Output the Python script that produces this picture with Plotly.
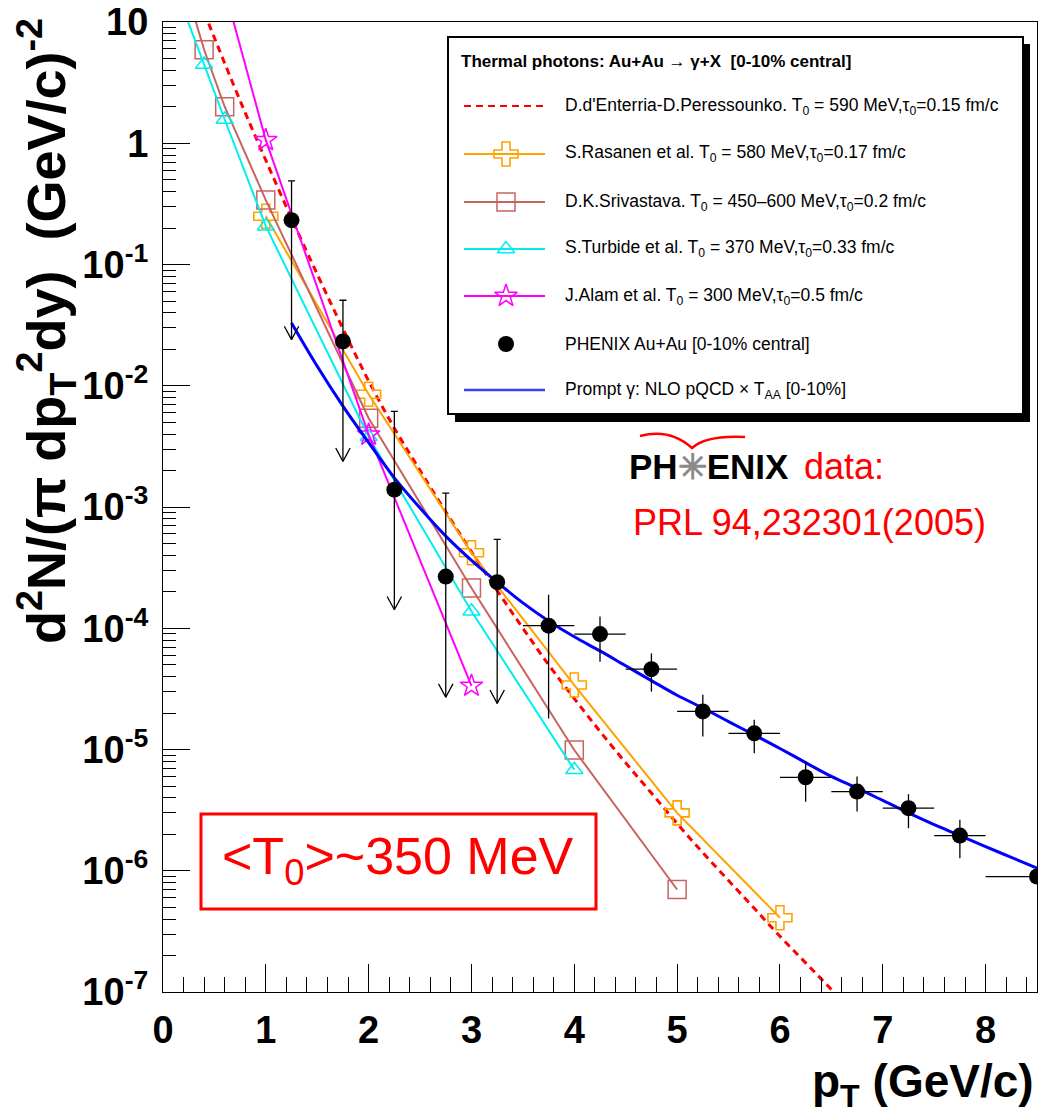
import plotly.graph_objects as go

# ---------------- data ----------------
# PHENIX Au+Au [0-10% central]
pt_data = [1.25, 1.75, 2.25, 2.75, 3.25, 3.75, 4.25, 4.75, 5.25, 5.75, 6.25, 6.75, 7.25, 7.75, 8.5]
yield_data = [0.232, 0.0232, 1.39e-3, 2.67e-4, 2.40e-4, 1.05e-4, 8.95e-5, 4.6e-5, 2.06e-5,
              1.36e-5, 5.9e-6, 4.5e-6, 3.28e-6, 1.95e-6, 8.96e-7]
err_top = [0.49, 0.0507, 6.15e-3, 1.30e-3, 5.4e-4, 1.89e-4, 1.25e-4, 6.2e-5, 2.83e-5,
           1.76e-5, 7.96e-6, 6.0e-6, 4.28e-6, 2.63e-6, 8.96e-7]
err_bottom = [0.024, 2.38e-3, 1.42e-4, 2.7e-5, 2.4e-5, 1.8e-5, 5.3e-5, 3.0e-5, 1.28e-5,
              9.3e-6, 3.7e-6, 3.08e-6, 2.24e-6, 1.27e-6, 8.96e-7]
is_limit = [1, 1, 1, 1, 1, 0, 0, 0, 0, 0, 0, 0, 0, 0, 0]
xerr_minus = [0, 0, 0, 0, 0, 0.25, 0.25, 0.25, 0.25, 0.25, 0.25, 0.25, 0.25, 0.25, 0.5]
xerr_plus = [0, 0, 0, 0, 0, 0.25, 0.25, 0.25, 0.25, 0.25, 0.25, 0.25, 0.25, 0.25, 0.5]

# D.d'Enterria - D.Peressounko (dashed red)
pt_ddp = [0.4, 0.5, 0.6, 0.8, 1.0, 1.25, 1.5, 1.75, 2.0, 2.25, 2.5, 2.75, 3.0, 3.25, 3.5,
          3.75, 4.0, 4.25, 4.5, 4.75, 5.0, 5.25, 5.5, 5.75, 6.0, 6.25, 6.5, 6.75]
y_ddp = [12.0, 7.41, 4.57, 1.78, 0.724, 0.240, 0.0832, 0.0295, 0.01096, 4.47e-3, 2.0e-3,
         9.12e-4, 4.27e-4, 2.04e-4, 1.0e-4, 5.0e-5, 2.63e-5, 1.41e-5, 7.76e-6, 4.37e-6,
         2.45e-6, 1.41e-6, 8.3e-7, 4.9e-7, 2.88e-7, 1.74e-7, 1.05e-7, 6.3e-8]

# S.Rasanen et al. (orange crosses)
pt_ras = [1, 2, 3, 4, 5, 6]
y_ras = [0.25, 8.5e-3, 4.2e-4, 3.4e-5, 3.0e-6, 4.1e-7]

# D.K.Srivastava (brown squares)
pt_dks = [0.2, 0.4, 0.6, 1, 2, 3, 4, 5]
y_dks = [22.0, 5.9, 2.0, 0.34, 5.4e-3, 2.15e-4, 9.9e-6, 7.0e-7]

# S.Turbide et al. (cyan triangles)
pt_tur = [0.2, 0.4, 0.6, 1, 2, 3, 4]
y_tur = [12.6, 4.46, 1.57, 0.207, 3.8e-3, 1.38e-4, 6.8e-6]

# J.Alam et al. (magenta stars)
pt_alam = [0.5, 1, 2, 3]
y_alam = [38.0, 1.06, 3.95e-3, 3.35e-5]

# Prompt gamma NLO pQCD x TAA (blue)
pt_prompt = [1.25, 1.5, 1.75, 2.0, 2.25, 2.5, 2.75, 3.0, 3.25, 3.5, 3.75, 4.0, 4.25, 4.5, 4.75,
             5.0, 5.25, 5.5, 5.75, 6.0, 6.25, 6.5, 6.75, 7.0, 7.25, 7.5, 7.75, 8.0, 8.25, 8.5]
y_prompt = [3.3e-2, 1.45e-2, 6.8e-3, 3.4e-3, 1.74e-3, 9.8e-4, 5.75e-4, 3.63e-4, 2.4e-4,
            1.62e-4, 1.15e-4, 8.5e-5, 6.5e-5, 4.9e-5, 3.7e-5, 2.8e-5, 2.2e-5, 1.7e-5,
            1.32e-5, 1.02e-5, 7.8e-6, 6.0e-6, 4.8e-6, 3.8e-6, 3.0e-6, 2.4e-6, 1.95e-6,
            1.58e-6, 1.29e-6, 1.05e-6]

y_tickvals = [1e-7, 1e-6, 1e-5, 1e-4, 1e-3, 1e-2, 1e-1, 1, 10]
y_ticktext = ["10<sup>-7</sup>", "10<sup>-6</sup>", "10<sup>-5</sup>", "10<sup>-4</sup>",
              "10<sup>-3</sup>", "10<sup>-2</sup>", "10<sup>-1</sup>", "1", "10"]
x_tickvals = [0, 1, 2, 3, 4, 5, 6, 7, 8]
x_ticktext = ["0", "1", "2", "3", "4", "5", "6", "7", "8"]

legend_title = "Thermal photons: Au+Au \u2192 \u03b3+X \u00a0[0-10% central]"
legend_labels = [
    "D.d'Enterria-D.Peressounko. T<sub>0</sub> = 590 MeV,\u03c4<sub>0</sub>=0.15 fm/c",
    "S.Rasanen et al. T<sub>0</sub> = 580 MeV,\u03c4<sub>0</sub>=0.17 fm/c",
    "D.K.Srivastava. T<sub>0</sub> = 450\u2013600 MeV,\u03c4<sub>0</sub>=0.2 fm/c",
    "S.Turbide et al. T<sub>0</sub> = 370 MeV,\u03c4<sub>0</sub>=0.33 fm/c",
    "J.Alam et al. T<sub>0</sub> = 300 MeV,\u03c4<sub>0</sub>=0.5 fm/c",
    "PHENIX Au+Au [0-10% central]",
    "Prompt \u03b3: NLO pQCD \u00d7 T<sub>AA</sub> [0-10%]",
]

# ---------------- styles / layout geometry ----------------
W, H = 1038, 1117
ML, MR, MT, MB = 163, 1, 22, 125
PW, PH = W - ML - MR, H - MT - MB
FONT = "Liberation Sans, Arial, Helvetica, sans-serif"

C_RED = "#ff0000"
C_ORA = "#ffa200"
C_BRN = "#c8645f"
C_CYA = "#00eeee"
C_MAG = "#ff00ff"
C_BLU = "#0000ff"


def pxx(x):
    return (x - ML) / PW


def pxy(y):
    return (H - MB - y) / PH


fig = go.Figure()

# model curves
fig.add_trace(go.Scatter(x=pt_ddp, y=y_ddp, mode="lines",
                         line=dict(color=C_RED, width=3, dash="7px,5px", shape="spline"),
                         showlegend=False))
fig.add_trace(go.Scatter(x=pt_ras, y=y_ras, mode="lines+markers",
                         line=dict(color=C_ORA, width=2),
                         marker=dict(symbol="cross-open", size=20, color=C_ORA,
                                     line=dict(color=C_ORA, width=1.6)),
                         showlegend=False))
fig.add_trace(go.Scatter(x=pt_dks, y=y_dks, mode="lines+markers",
                         line=dict(color=C_BRN, width=2),
                         marker=dict(symbol="square-open", size=18, color=C_BRN,
                                     line=dict(color=C_BRN, width=1.5)),
                         showlegend=False))
fig.add_trace(go.Scatter(x=pt_tur, y=y_tur, mode="lines+markers",
                         line=dict(color=C_CYA, width=2),
                         marker=dict(symbol="triangle-up-open", size=15, color=C_CYA,
                                     line=dict(color=C_CYA, width=1.5)),
                         showlegend=False))
fig.add_trace(go.Scatter(x=pt_alam, y=y_alam, mode="lines+markers",
                         line=dict(color=C_MAG, width=2),
                         marker=dict(symbol="star-open", size=17, color=C_MAG,
                                     line=dict(color=C_MAG, width=1.5)),
                         showlegend=False))
fig.add_trace(go.Scatter(x=pt_prompt, y=y_prompt, mode="lines",
                         line=dict(color=C_BLU, width=3, shape="spline"),
                         showlegend=False))

# PHENIX: stems + arrowheads for the points whose lower error reaches zero
stem_x, stem_y = [], []
for x, y, lo, lim in zip(pt_data, yield_data, err_bottom, is_limit):
    if lim:
        stem_x += [x, x, None, x - 0.07, x, x + 0.07, None]
        stem_y += [y, lo, None, lo * 10 ** 0.11, lo, lo * 10 ** 0.11, None]
fig.add_trace(go.Scatter(x=stem_x, y=stem_y, mode="lines",
                         line=dict(color="black", width=1.3), showlegend=False))

lim_idx = [i for i, l in enumerate(is_limit) if l]
ok_idx = [i for i, l in enumerate(is_limit) if not l]

fig.add_trace(go.Scatter(
    x=[pt_data[i] for i in lim_idx], y=[yield_data[i] for i in lim_idx], mode="markers",
    marker=dict(symbol="circle", size=16, color="black"),
    error_y=dict(type="data", symmetric=False,
                 array=[err_top[i] - yield_data[i] for i in lim_idx],
                 arrayminus=[0 for i in lim_idx], color="black", thickness=1.3, width=3.5),
    showlegend=False))
fig.add_trace(go.Scatter(
    x=[pt_data[i] for i in ok_idx], y=[yield_data[i] for i in ok_idx], mode="markers",
    marker=dict(symbol="circle", size=16, color="black"),
    error_y=dict(type="data", symmetric=False,
                 array=[err_top[i] - yield_data[i] for i in ok_idx],
                 arrayminus=[yield_data[i] - err_bottom[i] for i in ok_idx],
                 color="black", thickness=1.3, width=0),
    error_x=dict(type="data", symmetric=False,
                 array=[xerr_plus[i] for i in ok_idx],
                 arrayminus=[xerr_minus[i] for i in ok_idx],
                 color="black", thickness=1.3, width=0),
    showlegend=False))

# ---------------- hand-drawn legend (overlay pixel axes) ----------------
leg_rows = [106, 154, 202, 249, 296, 344, 390]
samp_x0, samp_x1, samp_xm = 464, 545, 506
leg_line_styles = [
    dict(color=C_RED, width=2, dash="7px,5px"),
    dict(color=C_ORA, width=2),
    dict(color=C_BRN, width=2),
    dict(color=C_CYA, width=2),
    dict(color=C_MAG, width=2),
    None,
    dict(color="#3c3cff", width=2.5),
]
leg_markers = [
    None,
    dict(symbol="cross-open", size=20, color=C_ORA, line=dict(color=C_ORA, width=1.6)),
    dict(symbol="square-open", size=18, color=C_BRN, line=dict(color=C_BRN, width=1.5)),
    dict(symbol="triangle-up-open", size=15, color=C_CYA, line=dict(color=C_CYA, width=1.5)),
    dict(symbol="star-open", size=17, color=C_MAG, line=dict(color=C_MAG, width=1.5)),
    dict(symbol="circle", size=16, color="black"),
    None,
]
for row, ls, mk in zip(leg_rows, leg_line_styles, leg_markers):
    if ls is not None:
        fig.add_trace(go.Scatter(x=[samp_x0, samp_x1], y=[row, row], mode="lines",
                                 line=ls, xaxis="x2", yaxis="y2", showlegend=False,
                                 hoverinfo="skip"))
    if mk is not None:
        fig.add_trace(go.Scatter(x=[samp_xm], y=[row], mode="markers", marker=mk,
                                 xaxis="x2", yaxis="y2", showlegend=False, hoverinfo="skip"))

annotations = []
annotations.append(dict(x=pxx(459), y=pxy(62), xref="paper", yref="paper",
                        text="<b>" + legend_title + "</b>", showarrow=False,
                        xanchor="left", yanchor="middle",
                        font=dict(family=FONT, size=17, color="black")))
for row, lab in zip(leg_rows, legend_labels):
    annotations.append(dict(x=pxx(563), y=pxy(row), xref="paper", yref="paper",
                            text=lab, showarrow=False, xanchor="left", yanchor="middle",
                            font=dict(family=FONT, size=17.5, color="black")))

# PHENIX logo and reference
annotations.append(dict(x=pxx(627), y=pxy(466), xref="paper", yref="paper",
                        text="<b>PH<span style='color:#8a8a8a'>\u2733</span>ENIX</b>",
                        showarrow=False, xanchor="left", yanchor="middle",
                        font=dict(family=FONT, size=35, color="black")))
annotations.append(dict(x=pxx(802), y=pxy(466), xref="paper", yref="paper",
                        text="data:", showarrow=False, xanchor="left", yanchor="middle",
                        font=dict(family=FONT, size=36, color="red")))
annotations.append(dict(x=pxx(631), y=pxy(522), xref="paper", yref="paper",
                        text="PRL 94,232301(2005)", showarrow=False, xanchor="left",
                        yanchor="middle", font=dict(family=FONT, size=36, color="red")))
annotations.append(dict(x=pxx(398), y=pxy(860), xref="paper", yref="paper",
                        text="&lt;T<sub>0</sub>&gt;~350 MeV", showarrow=False,
                        xanchor="center", yanchor="middle",
                        font=dict(family=FONT, size=52, color="red")))

# axis titles
annotations.append(dict(x=pxx(46), y=pxy(16), xref="paper", yref="paper",
                        text="<b>d<sup>2</sup>N/(\u03c0 dp<sub>T</sub><sup>2</sup>dy) \u00a0(GeV/c)<sup>-2</sup></b>",
                        textangle=-90, showarrow=False, xanchor="center", yanchor="top",
                        font=dict(family=FONT, size=54, color="black")))
annotations.append(dict(x=pxx(1036), y=pxy(1084), xref="paper", yref="paper",
                        text="<b>p<sub>T</sub> (GeV/c)</b>", showarrow=False,
                        xanchor="right", yanchor="middle",
                        font=dict(family=FONT, size=46, color="black")))

shapes = [
    # legend shadow and box
    dict(type="rect", xref="paper", yref="paper", x0=pxx(455), x1=pxx(1030),
         y0=pxy(422), y1=pxy(44), fillcolor="black", line=dict(width=0), layer="below"),
    dict(type="rect", xref="paper", yref="paper", x0=pxx(448), x1=pxx(1023),
         y0=pxy(414), y1=pxy(37), fillcolor="white", line=dict(color="black", width=2),
         layer="below"),
    # <T0> box
    dict(type="rect", xref="paper", yref="paper", x0=pxx(201), x1=pxx(596),
         y0=pxy(909), y1=pxy(814), line=dict(color="red", width=3)),
    # PHENIX logo arc
    dict(type="path", xref="paper", yref="paper",
         path="M{},{} Q{},{} {},{} Q{},{} {},{}".format(
             pxx(640), pxy(436), pxx(670), pxy(428), pxx(692), pxy(448),
             pxx(706), pxy(435), pxx(745), pxy(437)),
         line=dict(color="red", width=2.5)),
]

fig.update_layout(
    width=W, height=H,
    margin=dict(l=ML, r=MR, t=MT, b=MB, pad=0),
    paper_bgcolor="white", plot_bgcolor="white",
    showlegend=False,
    font=dict(family=FONT, color="black"),
    xaxis=dict(range=[0, 8.5], showline=True, mirror=True, linecolor="black", linewidth=1.2,
               showgrid=False, zeroline=False, ticks="inside", ticklen=28, tickwidth=1.2,
               tickcolor="black", tickvals=x_tickvals, ticktext=x_ticktext,
               tickfont=dict(family=FONT, size=38, color="black", weight="bold"),
               minor=dict(ticks="inside", ticklen=15, tickwidth=1.2, tickcolor="black",
                          dtick=0.2, tick0=0, showgrid=False),
               ticklabelstandoff=4),
    yaxis=dict(type="log", range=[-7, 1], showline=True, mirror=True, linecolor="black",
               linewidth=1.2, showgrid=False, zeroline=False, ticks="inside", ticklen=27,
               tickwidth=1.2, tickcolor="black", tickvals=y_tickvals, ticktext=y_ticktext,
               tickfont=dict(family=FONT, size=38, color="black", weight="bold"),
               minor=dict(ticks="inside", ticklen=13, tickwidth=1.2, tickcolor="black",
                          dtick="D1", showgrid=False),
               ticklabelstandoff=6),
    xaxis2=dict(overlaying="x", anchor="y2", range=[ML, W - MR], visible=False,
                fixedrange=True),
    yaxis2=dict(overlaying="y", anchor="x2", range=[H - MB, MT], visible=False,
                fixedrange=True),
    annotations=annotations,
    shapes=shapes,
)

fig.write_html("out.html")
